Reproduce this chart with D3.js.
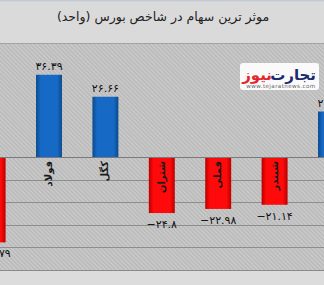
<!DOCTYPE html>
<html>
<head>
<meta charset="utf-8">
<script src="https://cdn.jsdelivr.net/npm/d3@7"></script>
<style>
  html, body { margin: 0; padding: 0; background: #dcdcdc; }
  svg { display: block; font-family: "DejaVu Sans", sans-serif; }
</style>
</head>
<body>
<div id="chart"></div>
<script>
// data (first and last bars are cut by the frame)
const symbols = ["شپنا", "فولاد", "کگل", "شتران", "فملی", "شبندر", "فارس"];
const impact = [-37.79, 36.39, 26.66, -24.8, -22.98, -21.14, 20.12];
const gridTicks = [-10, -20, -30, -40, -50];
const chartTitle = "موثر ترین سهام در شاخص بورس (واحد)";

const W = 324, H = 285;
const plotTop = 44, plotBottom = 270;

const faDigits = "۰۱۲۳۴۵۶۷۸۹";
const toFa = (v) => String(v).replace(/\d/g, (d) => faDigits[+d]).replace("-", "−");

const svg = d3.select("#chart").append("svg")
  .attr("width", W).attr("height", H);

const defs = svg.append("defs");

// diagonal hatch of the plot background
const hatch = defs.append("pattern")
  .attr("id", "hatch")
  .attr("patternUnits", "userSpaceOnUse")
  .attr("width", 3).attr("height", 3)
  .attr("patternTransform", "rotate(-45)");
hatch.append("rect").attr("width", 3).attr("height", 3).attr("fill", "#b9b9b9");
hatch.append("rect").attr("width", 1.3).attr("height", 3).attr("fill", "#cdcdcd");

function barGradient(id, edge, mid) {
  const g = defs.append("linearGradient").attr("id", id)
    .attr("x1", "0%").attr("x2", "100%").attr("y1", "0%").attr("y2", "0%");
  g.append("stop").attr("offset", "0%").attr("stop-color", edge);
  g.append("stop").attr("offset", "18%").attr("stop-color", mid);
  g.append("stop").attr("offset", "82%").attr("stop-color", mid);
  g.append("stop").attr("offset", "100%").attr("stop-color", edge);
}
barGradient("blueGrad", "#0b4a8c", "#1669c4");
barGradient("redGrad", "#b80000", "#ff0a0a");

// bands
svg.append("rect").attr("x", 0).attr("y", 0).attr("width", W).attr("height", plotTop)
  .attr("fill", "#dadada");
svg.append("rect").attr("x", 0).attr("y", 0).attr("width", W).attr("height", 1.5)
  .attr("fill", "#c3cad4");
svg.append("rect").attr("x", 0).attr("y", plotTop).attr("width", W)
  .attr("height", plotBottom - plotTop).attr("fill", "url(#hatch)");

const x = d3.scaleBand()
  .domain(symbols)
  .range([-35.6, 359.2])
  .paddingInner(0.54)
  .paddingOuter(0.27);

const y = d3.scaleLinear()
  .domain([-50, 50])
  .range([plotBottom, plotTop]);

// grid lines
svg.append("g")
  .selectAll("line")
  .data(gridTicks)
  .join("line")
  .attr("x1", 0).attr("x2", W)
  .attr("y1", (d) => Math.round(y(d)) + 0.5)
  .attr("y2", (d) => Math.round(y(d)) + 0.5)
  .attr("stroke", "#8e8e8e")
  .attr("stroke-width", 1.2);

svg.append("line")
  .attr("x1", 0).attr("x2", W)
  .attr("y1", plotTop - 0.5).attr("y2", plotTop - 0.5)
  .attr("stroke", "#a3a3a3");

const rows = symbols.map((s, i) => ({ name: s, value: impact[i] }));

// bars
svg.append("g")
  .selectAll("rect")
  .data(rows)
  .join("rect")
  .attr("x", (d) => x(d.name))
  .attr("width", x.bandwidth())
  .attr("y", (d) => y(Math.max(0, d.value)))
  .attr("height", (d) => Math.abs(y(d.value) - y(0)))
  .attr("fill", (d) => (d.value >= 0 ? "url(#blueGrad)" : "url(#redGrad)"));

// zero line
svg.append("line")
  .attr("x1", 0).attr("x2", W)
  .attr("y1", y(0) + 0.5).attr("y2", y(0) + 0.5)
  .attr("stroke", "#7a7a7a")
  .attr("stroke-width", 1.2);

// value labels
svg.append("g")
  .selectAll("text")
  .data(rows)
  .join("text")
  .attr("x", (d) => x(d.name) + x.bandwidth() / 2)
  .attr("y", (d) => (d.value >= 0 ? y(d.value) - 5 : y(d.value) + 15))
  .attr("text-anchor", "middle")
  .attr("direction", "ltr")
  .attr("font-size", 11)
  .attr("fill", "#111")
  .text((d) => toFa(d.value));

// category labels, rotated
svg.append("g")
  .selectAll("text")
  .data(rows)
  .join("text")
  .attr("transform", (d) => `translate(${x(d.name) + x.bandwidth() / 2},${y(0) + 4}) rotate(-90)`)
  .attr("text-anchor", "end")
  .attr("dominant-baseline", "middle")
  .attr("font-size", 10)
  .attr("font-weight", "bold")
  .attr("fill", "#1a1a1a")
  .text((d) => d.name);

// bottom band
svg.append("line")
  .attr("x1", 0).attr("x2", W)
  .attr("y1", plotBottom + 0.5).attr("y2", plotBottom + 0.5)
  .attr("stroke", "#8a8a8a").attr("stroke-width", 1.2);
svg.append("rect").attr("x", 0).attr("y", plotBottom + 1.5).attr("width", W)
  .attr("height", H - plotBottom).attr("fill", "#dcdcdc");

// title
svg.append("text")
  .attr("x", 163).attr("y", 21)
  .attr("text-anchor", "middle")
  .attr("font-size", 12.5)
  .attr("fill", "#222")
  .text(chartTitle);

// logo
const logo = svg.append("g");
logo.append("rect")
  .attr("x", 240).attr("y", 63).attr("width", 79).attr("height", 27)
  .attr("rx", 3).attr("fill", "#fafafa");
logo.append("text")
  .attr("x", 316).attr("y", 80)
  .attr("text-anchor", "end")
  .attr("font-size", 15).attr("font-weight", "bold")
  .attr("fill", "#1b2b6e")
  .text("تجارت");
logo.append("text")
  .attr("x", 272).attr("y", 80)
  .attr("text-anchor", "end")
  .attr("font-size", 15).attr("font-weight", "bold")
  .attr("fill", "#e3262b")
  .text("نیوز");
logo.append("text")
  .attr("x", 281).attr("y", 87.5)
  .attr("text-anchor", "middle")
  .attr("font-size", 5.6)
  .attr("letter-spacing", 0.4)
  .attr("fill", "#666")
  .text("www.tejaratnews.com");
</script>
</body>
</html>
